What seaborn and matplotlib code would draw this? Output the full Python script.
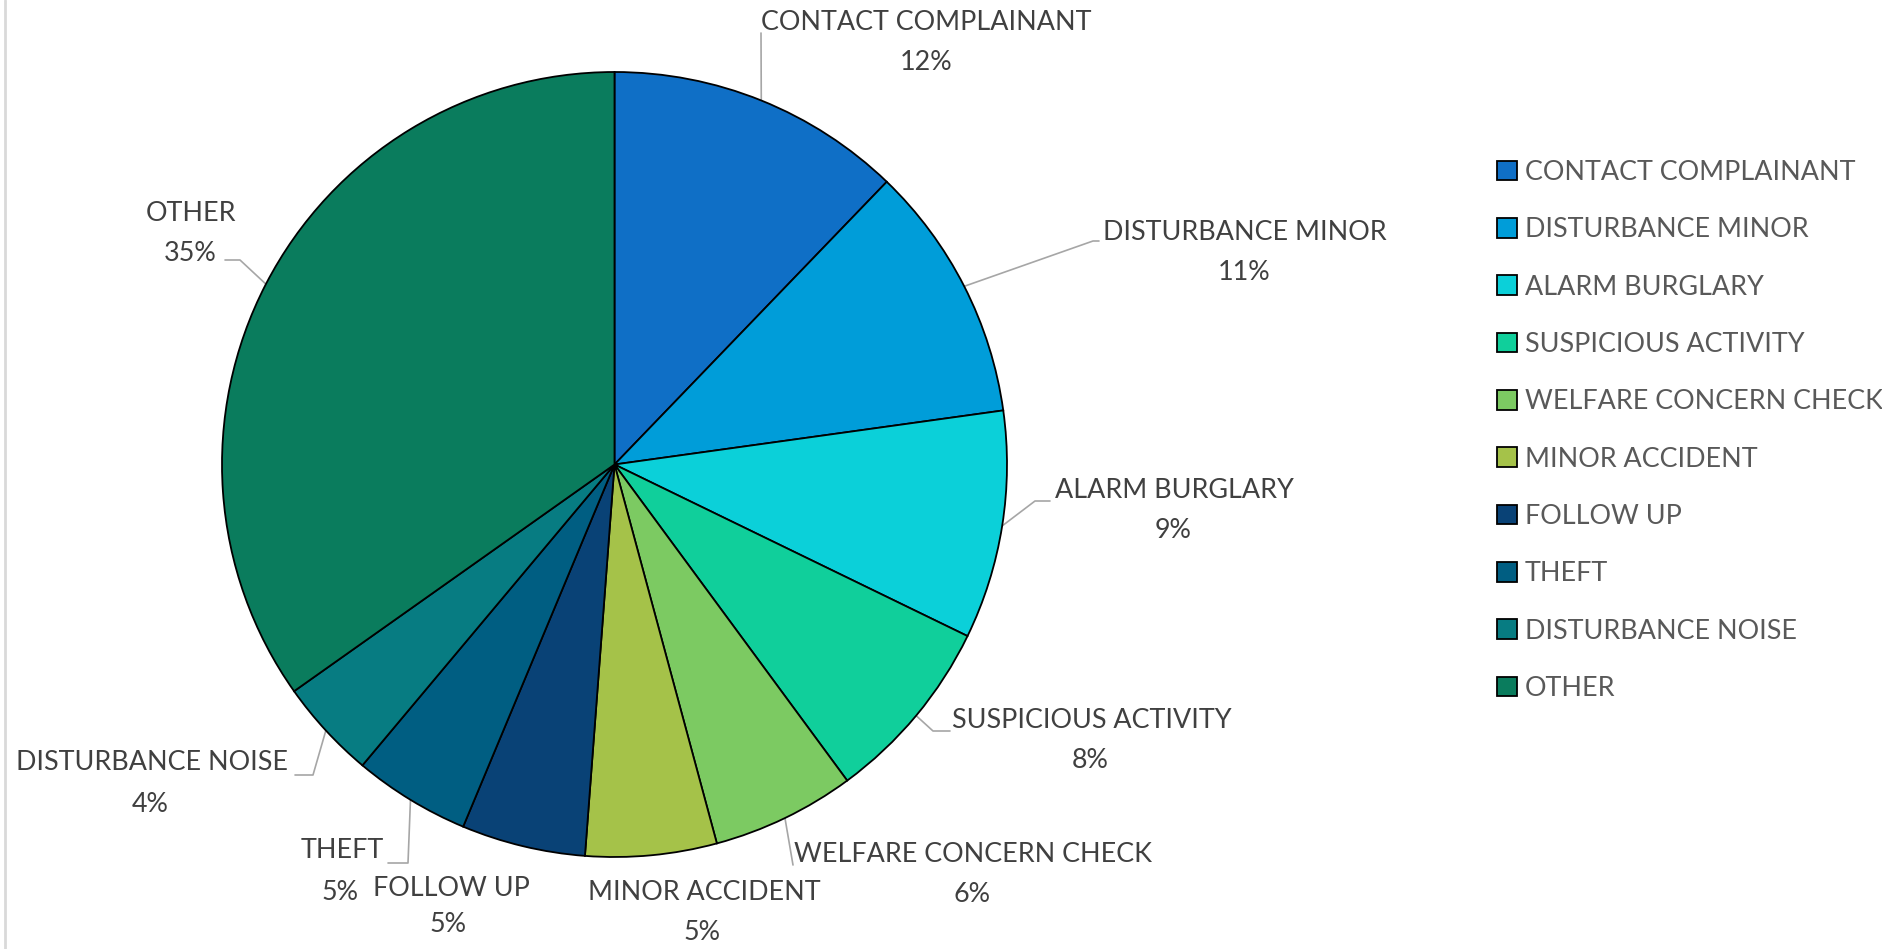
import numpy as np
import matplotlib; matplotlib.use("Agg")
import matplotlib.pyplot as plt
import seaborn as sns

# ── data ──────────────────────────────────────────────────────────────────────
CATEGORIES = ["CONTACT COMPLAINANT", "DISTURBANCE MINOR", "ALARM BURGLARY",
              "SUSPICIOUS ACTIVITY", "WELFARE CONCERN CHECK", "MINOR ACCIDENT",
              "FOLLOW UP", "THEFT", "DISTURBANCE NOISE", "OTHER"]
SHARES = [12.2, 10.6, 9.4, 7.7, 5.9, 5.4, 5.1, 4.8, 4.1, 34.8]
COLORS = ["#0F6FC6", "#009DD9", "#0BD0D9", "#10CF9B", "#7CCA62", "#A5C249",
          "#094276", "#005E82", "#077C82", "#0A7C5D"]

# ── layout (pixels, measured from top-left) ──────────────────────────────────
W, H = 1882, 949
CX, CY, R = 614.5, 464.5, 392.5
NAME_POS = [(926, 22), (1245, 232), (1174, 490), (1092, 720), (973, 855),
            (704, 893), (451, 889), (342, 850), (152, 763), (191, 213)]
PCT_POS = [(926, 62), (1244, 272), (1173, 530), (1090, 760), (972, 895),
           (702, 933), (448, 925), (340, 892), (150, 805), (190, 253)]
LEADERS = [[(761, 33)], [(1093, 241), (1099, 241)], [(1035, 501), (1050, 501)],
           [(933, 731), (950, 731)], [(793, 865)], [], [],
           [(408, 863), (388, 863)], [(313, 775), (295, 775)],
           [(240, 260), (225, 260)]]
FS = 19.4

sns.set_theme(style="white")
plt.rcParams["font.family"] = ["Lato", "DejaVu Sans"]

fig = plt.figure(figsize=(W / 100, H / 100), dpi=100)
ax = fig.add_axes([0, 0, 1, 1])

wedges, _ = ax.pie(SHARES, colors=COLORS, startangle=90, counterclock=False,
                   center=(CX, H - CY), radius=R,
                   wedgeprops=dict(edgecolor="black", linewidth=1.3))
ax.set_xlim(0, W)
ax.set_ylim(0, H)
ax.set_axis_off()

# data labels + leader lines
total = sum(SHARES)
cum = np.cumsum([0] + SHARES[:-1])
for i, name in enumerate(CATEGORIES):
    pct = f"{int(SHARES[i] / total * 100 + 0.5)}%"
    nx, ny = NAME_POS[i]
    px, py = PCT_POS[i]
    ax.text(nx, H - ny, name, ha="center", va="center", fontsize=FS, color="#404040")
    ax.text(px, H - py, pct, ha="center", va="center", fontsize=FS, color="#404040")
    if LEADERS[i]:
        mid = np.deg2rad((cum[i] + SHARES[i] / 2) / total * 360)
        sx, sy = CX + R * np.sin(mid), CY - R * np.cos(mid)
        pts = [(sx, sy)] + LEADERS[i]
        ax.plot([p[0] for p in pts], [H - p[1] for p in pts],
                color="#A6A6A6", lw=1.2, zorder=0)

# left border line of the chart area
ax.plot([5, 5], [0, H], color="#D9D9D9", lw=2)

leg = ax.legend(wedges, CATEGORIES, loc="upper left",
                bbox_to_anchor=(1497 / W, 1 - 160 / H), frameon=False,
                fontsize=FS, handlelength=0.74, handleheight=0.74,
                handletextpad=0.3, labelspacing=1.2, borderpad=0,
                borderaxespad=0)
for t in leg.get_texts():
    t.set_color("#595959")

fig.savefig("out.png", dpi=100)
